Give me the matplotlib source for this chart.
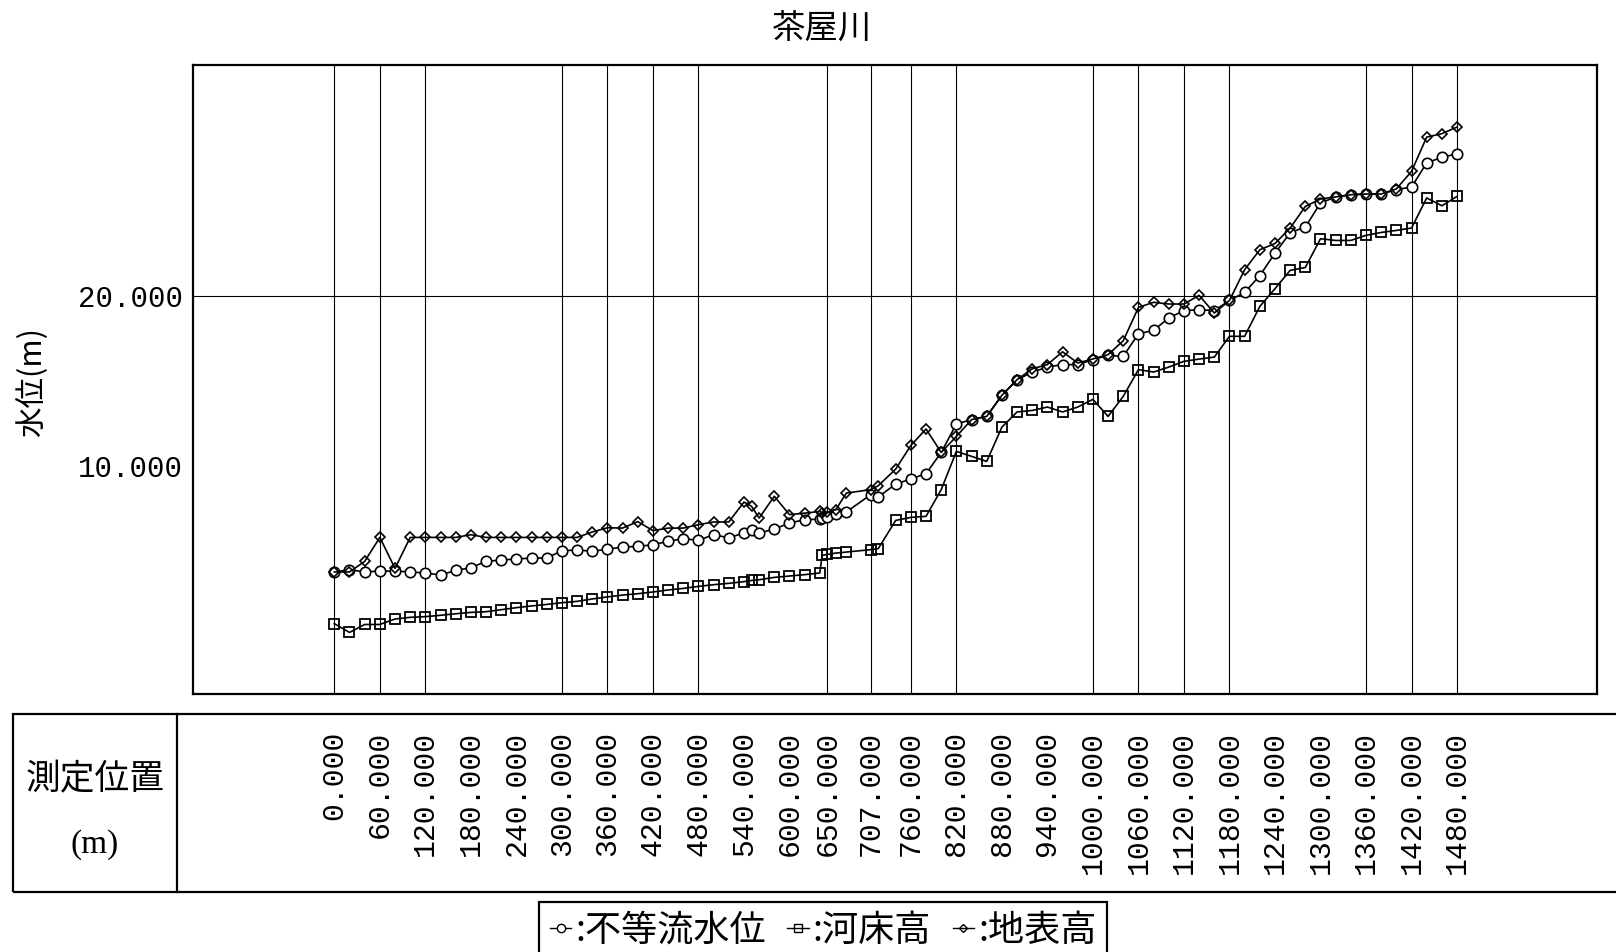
import matplotlib
matplotlib.use("Agg")
import matplotlib.pyplot as plt
import matplotlib.transforms as mtransforms
from matplotlib.lines import Line2D
from matplotlib.patches import Rectangle

#-----------------------------------------------------------------------------#
# 測定位置 [m] and the three profiles [m]
dist = [0, 20, 40, 60, 80, 100, 120, 140, 160, 180, 200, 220, 240, 260, 280,
        300, 320, 340, 360, 380, 400, 420, 440, 460, 480, 500, 520, 540, 550,
        560, 580, 600, 620, 640, 643, 650, 661, 675, 707, 717, 740, 760, 780,
        800, 820, 840, 860, 880, 900, 920, 940, 960, 980, 1000, 1020, 1040,
        1060, 1080, 1100, 1120, 1140, 1160, 1180, 1200, 1220, 1240, 1260,
        1280, 1300, 1320, 1340, 1360, 1380, 1400, 1420, 1440, 1460, 1480]

# 不等流水位
wl = [3.75, 3.88, 3.75, 3.80, 3.80, 3.75, 3.69, 3.57, 3.84, 4.00, 4.37, 4.45,
      4.51, 4.57, 4.57, 5.00, 5.04, 4.97, 5.08, 5.22, 5.25, 5.35, 5.55, 5.71,
      5.61, 5.94, 5.76, 6.04, 6.20, 6.04, 6.27, 6.63, 6.82, 6.86, 6.95, 7.00,
      7.15, 7.28, 8.29, 8.16, 8.92, 9.22, 9.53, 10.78, 12.45, 12.71, 12.90,
      14.14, 15.06, 15.50, 15.80, 15.95, 15.94, 16.24, 16.49, 16.43, 17.76,
      17.96, 18.69, 19.12, 19.18, 19.12, 19.72, 20.19, 21.18, 22.50, 23.70,
      24.04, 25.45, 25.81, 25.94, 25.98, 25.98, 26.24, 26.39, 27.81, 28.14,
      28.34]

# 河床高
bed = [0.71, 0.19, 0.66, 0.66, 0.98, 1.08, 1.12, 1.20, 1.29, 1.37, 1.41, 1.53,
       1.65, 1.75, 1.84, 1.94, 2.02, 2.16, 2.28, 2.39, 2.47, 2.57, 2.69, 2.78,
       2.90, 3.00, 3.08, 3.18, 3.25, 3.29, 3.43, 3.51, 3.59, 3.69, 4.72, 4.78,
       4.86, 4.92, 5.06, 5.12, 6.78, 6.96, 7.02, 8.59, 10.84, 10.55, 10.25,
       12.27, 13.16, 13.25, 13.45, 13.16, 13.45, 13.90, 12.90, 14.08, 15.65,
       15.51, 15.80, 16.14, 16.27, 16.39, 17.61, 17.61, 19.37, 20.41, 21.49,
       21.66, 23.35, 23.25, 23.25, 23.55, 23.72, 23.84, 23.98, 25.75, 25.29,
       25.84]

# 地表高
ground = [3.75, 3.75, 4.37, 5.78, 3.96, 5.78, 5.78, 5.78, 5.78, 5.94, 5.78,
          5.78, 5.78, 5.78, 5.78, 5.78, 5.78, 6.10, 6.35, 6.33, 6.71, 6.18,
          6.33, 6.33, 6.53, 6.69, 6.69, 7.86, 7.61, 6.92, 8.20, 7.12, 7.21,
          7.31, 7.20, 7.25, 7.41, 8.39, 8.59, 8.82, 9.80, 11.19, 12.16, 10.78,
          11.72, 12.71, 12.90, 14.14, 15.06, 15.70, 15.95, 16.70, 16.04, 16.28,
          16.53, 17.35, 19.31, 19.61, 19.51, 19.51, 20.02, 18.98, 19.72, 21.53,
          22.70, 23.07, 23.98, 25.25, 25.69, 25.81, 25.94, 25.98, 25.98, 26.28,
          27.31, 29.33, 29.53, 29.92]

# labels in the 測定位置 row, and where vertical grid lines go
label_pos = [0, 60, 120, 180, 240, 300, 360, 420, 480, 540, 600, 650, 707,
             760, 820, 880, 940, 1000, 1060, 1120, 1180, 1240, 1300, 1360,
             1420, 1480]
vgrid_pos = [0, 60, 120, 300, 360, 420, 480, 650, 707, 760, 820, 1000, 1060,
             1120, 1180, 1360, 1420, 1480]
ytick_vals = [10, 20]
hgrid_pos = [20]

series_names = ["不等流水位", "河床高", "地表高"]

#-----------------------------------------------------------------------------#
W, H = 1616, 952
cjk = ["Noto Sans CJK JP", "DejaVu Sans"]
mono = "Liberation Mono"

def fx(px):
    return px / W

def fy(py):
    return 1 - py / H

fig = plt.figure(figsize=(W / 100, H / 100), dpi=100)
ax = fig.add_axes([fx(193), fy(694), fx(1597 - 193), (694 - 65) / H])

for v in vgrid_pos:
    ax.axvline(v, color="black", lw=0.8, zorder=1)
for v in hgrid_pos:
    ax.axhline(v, color="black", lw=0.8, zorder=1)

ax.plot(dist, wl, "-o", color="black", lw=1.2, ms=7.5, mfc="white",
        mec="black", mew=1.2, zorder=3)
ax.plot(dist, bed, "-s", color="black", lw=1.2, ms=7.0, mfc="none",
        mec="black", mew=1.3, zorder=3)
ax.plot(dist, ground, "-D", color="black", lw=1.2, ms=5.6, mfc="none",
        mec="black", mew=1.2, zorder=4)

ax.set_xlim(-186.3, 1664.5)
ax.set_ylim(-3.43, 33.57)
ax.set_xticks([])
ax.set_yticks(ytick_vals)
ax.set_yticklabels(["{:.3f}".format(v) for v in ytick_vals],
                   family=mono, fontsize=21)
ax.tick_params(axis="y", length=0, pad=7)
for s in ax.spines.values():
    s.set_linewidth(1.6)

fig.text(fx(822), fy(29), "茶屋川", ha="center", va="center",
         fontsize=24, family=cjk)
fig.text(fx(32), fy(382), "水位(m)", ha="center", va="center",
         rotation=90, fontsize=22, family=cjk)

#-----------------------------------------------------------------------------#
# 測定位置 row under the chart
fig.add_artist(Rectangle((fx(13), fy(892)), fx(1700), (892 - 714) / H,
                         transform=fig.transFigure, fill=False,
                         ec="black", lw=1.6, clip_on=False))
fig.add_artist(Line2D([fx(177), fx(177)], [fy(714), fy(892)],
                      transform=fig.transFigure, color="black", lw=1.6))
fig.text(fx(95), fy(780), "測定位置", ha="center", va="center",
         fontsize=25, family=cjk)
fig.text(fx(95), fy(845), "(m)", ha="center", va="center",
         fontsize=24, family="Liberation Serif")

trans = mtransforms.blended_transform_factory(ax.transData, fig.transFigure)
for p in label_pos:
    ax.text(p, fy(731), "{:.3f}".format(p), transform=trans, rotation=90,
            ha="center", va="top", family=mono, fontsize=21.5, clip_on=False)

#-----------------------------------------------------------------------------#
# legend
handles = [
    Line2D([], [], color="black", lw=1.0, marker="o", ms=6, mfc="white"),
    Line2D([], [], color="black", lw=1.0, marker="s", ms=5.5, mfc="none"),
    Line2D([], [], color="black", lw=1.0, marker="D", ms=4.5, mfc="none"),
]
leg = fig.legend(handles, [":" + n for n in series_names], loc="upper center",
                 bbox_to_anchor=(fx(823), fy(902)), ncol=3, frameon=True,
                 fancybox=False, edgecolor="black", framealpha=1,
                 handlelength=0.6, handletextpad=0.1, columnspacing=0.6,
                 borderpad=0.3, borderaxespad=0,
                 prop={"family": cjk, "size": 26})
leg.get_frame().set_linewidth(1.6)

fig.savefig("out.png", dpi=100)
